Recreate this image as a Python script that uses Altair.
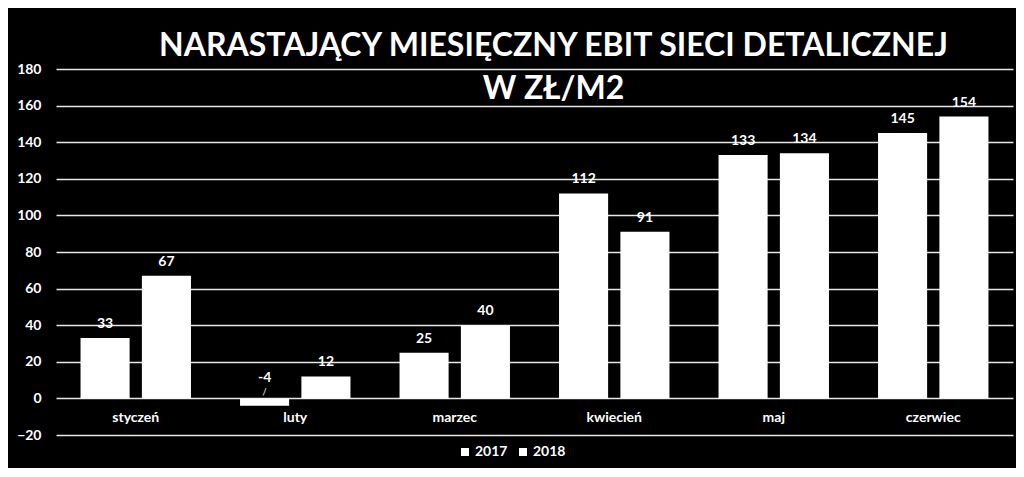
import altair as alt
import pandas as pd

months = ["styczeń", "luty", "marzec", "kwiecień", "maj", "czerwiec"]
v2017 = [33, -4, 25, 112, 133, 145]
v2018 = [67, 12, 40, 91, 134, 154]
years = ["2017", "2018"]
y_ticks = [-20, 0, 20, 40, 60, 80, 100, 120, 140, 160, 180]
title_lines = ["NARASTAJĄCY MIESIĘCZNY EBIT SIECI DETALICZNEJ", "W ZŁ/M2"]

rows = []
for m, a, b in zip(months, v2017, v2018):
    rows.append({"miesiac": m, "rok": years[0], "wartosc": a})
    rows.append({"miesiac": m, "rok": years[1], "wartosc": b})
df = pd.DataFrame(rows)
df["top"] = df["wartosc"].clip(lower=0)
df["etykieta"] = df["wartosc"].astype(str)

FONT = "Lato"

x = alt.X("miesiac:N", sort=months,
          scale=alt.Scale(paddingInner=0, paddingOuter=0),
          axis=alt.Axis(title=None, orient="bottom", offset=-37, domain=False,
                        ticks=False, tickSize=0, labelPadding=12, labelAngle=0,
                        labelColor="white", labelFont=FONT, labelFontSize=14,
                        labelFontWeight="bold", grid=False))
xo = alt.XOffset("rok:N", scale=alt.Scale(paddingInner=0.2, paddingOuter=0.4))
yscale = alt.Scale(domain=[-20, 180], nice=False)

bars = alt.Chart(df).mark_bar(color="white").encode(
    x=x,
    xOffset=xo,
    y=alt.Y("wartosc:Q", scale=yscale,
            axis=alt.Axis(title=None, values=y_ticks, tickCount=20, labelOverlap=False,
                          domain=False, ticks=False,
                          labelPadding=15, labelColor="white", labelFont=FONT,
                          labelFontSize=14, labelFontWeight="bold",
                          grid=True, gridColor="#e8e8e8", gridWidth=1.5)),
    color=alt.Color("rok:N", scale=alt.Scale(domain=years, range=["white", "white"]),
                    legend=alt.Legend(title=None, orient="none", legendX=402, legendY=376,
                                      direction="horizontal", symbolType="square",
                                      symbolSize=64, symbolFillColor="white",
                                      symbolStrokeWidth=0,
                                      labelColor="white", labelFont=FONT,
                                      labelFontSize=14, labelFontWeight="bold",
                                      columnPadding=8, labelOffset=3)),
)

pos_labels = alt.Chart(df).transform_filter("datum.wartosc >= 0").mark_text(
    color="white", font=FONT, fontSize=14, fontWeight="bold", baseline="bottom", dy=-7
).encode(x=alt.X("miesiac:N", sort=months), xOffset=xo,
         y=alt.Y("top:Q", scale=yscale), text="etykieta:N")

neg_labels = alt.Chart(df).transform_filter("datum.wartosc < 0").mark_text(
    color="white", font=FONT, fontSize=14, fontWeight="bold", baseline="bottom", dy=-13
).encode(x=alt.X("miesiac:N", sort=months), xOffset=xo,
         y=alt.Y("top:Q", scale=yscale), text="etykieta:N")

neg_leader = alt.Chart(df).transform_filter("datum.wartosc < 0").mark_text(
    color="white", font=FONT, fontSize=9, baseline="bottom", dy=-1, text="/"
).encode(x=alt.X("miesiac:N", sort=months), xOffset=xo,
         y=alt.Y("top:Q", scale=yscale))

chart = alt.layer(bars, pos_labels, neg_labels, neg_leader).properties(
    width=957, height=366,
    title=alt.TitleParams(text=title_lines, color="white", font=FONT, fontSize=32,
                          fontWeight="bold", anchor="middle", lineHeight=43,
                          dx=19, dy=44, offset=0),
    autosize=alt.AutoSizeParams(type="none"),
    padding={"left": 48, "top": 61, "right": 3, "bottom": 33},
    background="black",
).configure_view(stroke=None)

chart.save("out.html", embed_options={"renderer": "svg", "actions": False})
